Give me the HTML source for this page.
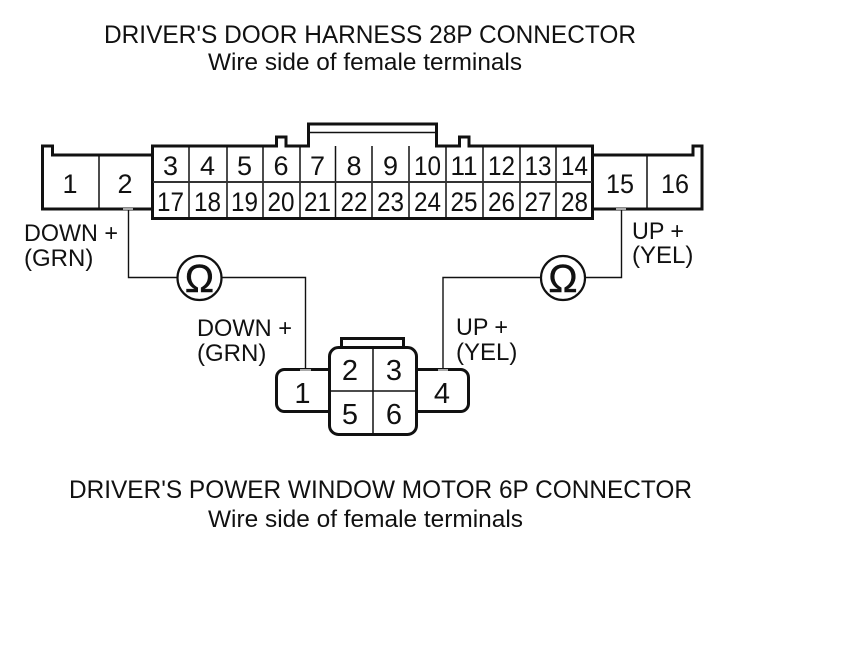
<!DOCTYPE html>
<html><head><meta charset="utf-8"><style>
html,body{margin:0;padding:0;background:#fff}
svg{display:block}
text{font-family:"Liberation Sans",Arial,sans-serif;fill:#111}
.t{font-size:25px}
.s{font-size:24px}
.n{font-size:27px;text-anchor:middle}
.l{font-size:24px}
</style></head><body>
<svg width="860" height="669" viewBox="0 0 860 669" xmlns="http://www.w3.org/2000/svg">
<rect width="860" height="669" fill="#fff"/>
<g fill="none" stroke="#111">
<!-- 28P connector -->
<path stroke-width="3" d="M152 155H52.500V146H42.500V209H152"/>
<path stroke-width="3" d="M593 155H693V146H702V209H593"/>
<path stroke-width="1.500" d="M99 155V209M647 155V209"/>
<path stroke-width="3" d="M152.500 146H276.500V137H286V146H308.500V124H436.500V146H459.500V137H469V146H592.500V218.500H152.500Z"/>
<path stroke-width="1.500" d="M309 132.500H436"/>
<path stroke-width="1.500" d="M189 146V218M227 146V218M263 146V218M300 146V218M335.500 146V218M372 146V218M409 146V218M446 146V218M483 146V218M520 146V218M556 146V218"/>
<path stroke-width="2" stroke="#333" d="M153 182H592"/>
<!-- wires -->
<path stroke-width="1.400" d="M128.500 209V277.500H305.500V369M621.500 209V277.500H443V369"/>
<circle cx="199.500" cy="278" r="22" fill="#fff" stroke-width="2.200"/>
<circle cx="563" cy="278" r="22" fill="#fff" stroke-width="2.200"/>
<!-- 6P connector -->
<path stroke-width="3" d="M341.500 347V338.500H403.500V347"/>
<path stroke-width="3" d="M329.500 369.500H284A8 8 0 0 0 276.500 377.500V404A8 8 0 0 0 284 411.500H329.500M416 369.500H461A8 8 0 0 1 468.500 377.500V404A8 8 0 0 1 461 411.500H416"/>
<rect x="329.500" y="347.500" width="87" height="87" rx="9" stroke-width="3" fill="#fff"/>
<path stroke-width="1.500" d="M373 348V434M330 391H416"/>
</g>
<g fill="#aaa">
<rect x="123" y="208" width="10" height="2"/>
<rect x="616" y="208" width="10" height="2"/>
<rect x="300" y="369" width="11" height="2"/>
<rect x="438" y="369" width="10" height="2"/>
</g>
<!-- Titles -->
<text class="t" x="104" y="43" textLength="532" lengthAdjust="spacingAndGlyphs">DRIVER'S DOOR HARNESS 28P CONNECTOR</text>
<text class="s" x="208" y="70" textLength="314" lengthAdjust="spacingAndGlyphs">Wire side of female terminals</text>
<text class="t" x="69" y="498" textLength="623" lengthAdjust="spacingAndGlyphs">DRIVER'S POWER WINDOW MOTOR 6P CONNECTOR</text>
<text class="s" x="208" y="527" textLength="315" lengthAdjust="spacingAndGlyphs">Wire side of female terminals</text>
<!-- Numbers -->
<text class="n" x="170.500" y="175">3</text>
<text class="n" x="207.500" y="175">4</text>
<text class="n" x="244.500" y="175">5</text>
<text class="n" x="281" y="175">6</text>
<text class="n" x="317.500" y="175">7</text>
<text class="n" x="354" y="175">8</text>
<text class="n" x="390.500" y="175">9</text>
<text class="n" x="427.500" y="175" textLength="27" lengthAdjust="spacingAndGlyphs">10</text>
<text class="n" x="464" y="175" textLength="27" lengthAdjust="spacingAndGlyphs">11</text>
<text class="n" x="501.500" y="175" textLength="27" lengthAdjust="spacingAndGlyphs">12</text>
<text class="n" x="538" y="175" textLength="27" lengthAdjust="spacingAndGlyphs">13</text>
<text class="n" x="574.500" y="175" textLength="27" lengthAdjust="spacingAndGlyphs">14</text>
<text class="n" x="170.500" y="211" textLength="27" lengthAdjust="spacingAndGlyphs">17</text>
<text class="n" x="207.500" y="211" textLength="27" lengthAdjust="spacingAndGlyphs">18</text>
<text class="n" x="244.500" y="211" textLength="27" lengthAdjust="spacingAndGlyphs">19</text>
<text class="n" x="281" y="211" textLength="27" lengthAdjust="spacingAndGlyphs">20</text>
<text class="n" x="317.500" y="211" textLength="27" lengthAdjust="spacingAndGlyphs">21</text>
<text class="n" x="354" y="211" textLength="27" lengthAdjust="spacingAndGlyphs">22</text>
<text class="n" x="390.500" y="211" textLength="27" lengthAdjust="spacingAndGlyphs">23</text>
<text class="n" x="427.500" y="211" textLength="27" lengthAdjust="spacingAndGlyphs">24</text>
<text class="n" x="464" y="211" textLength="27" lengthAdjust="spacingAndGlyphs">25</text>
<text class="n" x="501.500" y="211" textLength="27" lengthAdjust="spacingAndGlyphs">26</text>
<text class="n" x="538" y="211" textLength="27" lengthAdjust="spacingAndGlyphs">27</text>
<text class="n" x="574.500" y="211" textLength="27" lengthAdjust="spacingAndGlyphs">28</text>
<text class="n" x="70" y="193">1</text>
<text class="n" x="125" y="193">2</text>
<text class="n" x="620" y="193" textLength="28" lengthAdjust="spacingAndGlyphs">15</text>
<text class="n" x="675" y="193" textLength="28" lengthAdjust="spacingAndGlyphs">16</text>
<text class="n" x="350" y="380" style="font-size:29px">2</text>
<text class="n" x="394" y="380" style="font-size:29px">3</text>
<text class="n" x="350" y="424" style="font-size:29px">5</text>
<text class="n" x="394" y="424" style="font-size:29px">6</text>
<text class="n" x="302.500" y="403" style="font-size:29px">1</text>
<text class="n" x="442" y="403" style="font-size:29px">4</text>
<!-- Labels -->
<text class="l" x="24" y="241" textLength="94" lengthAdjust="spacingAndGlyphs">DOWN +</text>
<text class="l" x="24" y="266">(GRN)</text>
<text class="l" x="632" y="239" textLength="52" lengthAdjust="spacingAndGlyphs">UP +</text>
<text class="l" x="632" y="263">(YEL)</text>
<text class="l" x="197" y="336" textLength="95" lengthAdjust="spacingAndGlyphs">DOWN +</text>
<text class="l" x="197" y="361">(GRN)</text>
<text class="l" x="456" y="335" textLength="52" lengthAdjust="spacingAndGlyphs">UP +</text>
<text class="l" x="456" y="360">(YEL)</text>
<text x="199.500" y="292" text-anchor="middle" style="font-size:39px;stroke:#111;stroke-width:.5">Ω</text>
<text x="563" y="292" text-anchor="middle" style="font-size:39px;stroke:#111;stroke-width:.5">Ω</text>
</svg>
</body></html>
